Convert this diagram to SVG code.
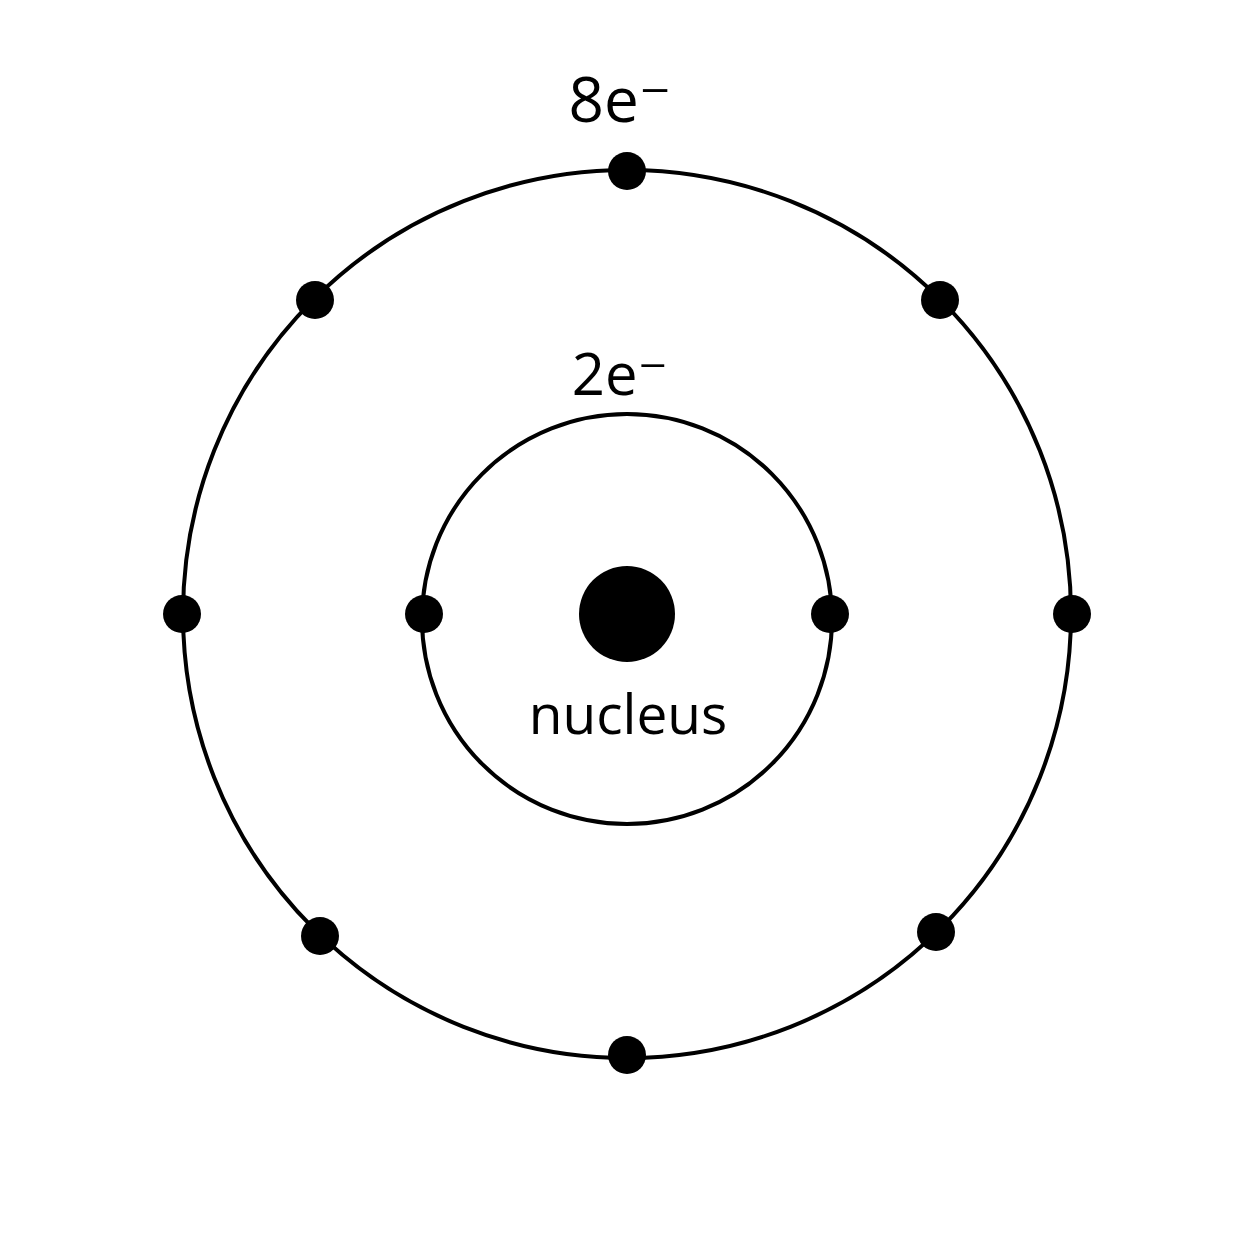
<svg xmlns="http://www.w3.org/2000/svg" width="1254" height="1254" viewBox="0 0 1254 1254">
<style>
.orb{fill:none;stroke:#000;stroke-width:4}
.e{fill:#000}
text{font-family:"Open Sans","DejaVu Sans",sans-serif;fill:#000;text-anchor:middle}
</style>
<rect width="1254" height="1254" fill="#fff"/>
<g id="outer-shell">
<circle class="orb" cx="627" cy="614" r="444"/>
<circle class="e" cx="627" cy="171" r="19"/>
<circle class="e" cx="940" cy="300" r="19"/>
<circle class="e" cx="1072" cy="614" r="19"/>
<circle class="e" cx="936" cy="932" r="19"/>
<circle class="e" cx="627" cy="1055" r="19"/>
<circle class="e" cx="320" cy="936" r="19"/>
<circle class="e" cx="182" cy="614" r="19"/>
<circle class="e" cx="315" cy="300" r="19"/>
<text x="620" y="122" font-size="62">8e⁻</text>
</g>
<g id="inner-shell">
<circle class="orb" cx="627" cy="619" r="205"/>
<circle class="e" cx="424" cy="614" r="19"/>
<circle class="e" cx="830" cy="614" r="19"/>
<text x="620" y="395" font-size="58">2e⁻</text>
</g>
<g id="nucleus">
<circle class="e" cx="627" cy="614" r="48"/>
<text x="628" y="734" font-size="55">nucleus</text>
</g>
</svg>
